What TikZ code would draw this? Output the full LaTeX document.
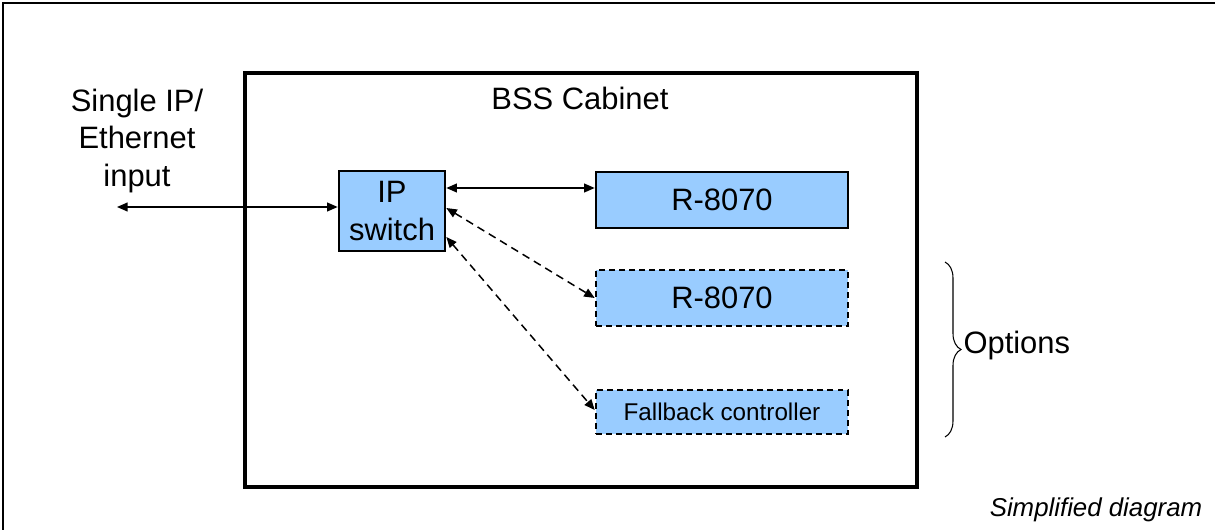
\documentclass[tikz,border=0pt]{standalone}
\usepackage{fontspec}
\setmainfont{Liberation Sans}
\usepackage{tikz}
\usetikzlibrary{arrows.meta,decorations.pathreplacing}

\definecolor{boxblue}{HTML}{99CCFF}

\begin{document}
\begin{tikzpicture}[x=0.02cm,y=-0.02cm,
        font=\fontsize{17.6}{21.3}\selectfont,
        unit/.style={draw,fill=boxblue,line width=1.5pt,inner sep=0pt,minimum width=5.04cm,minimum height=1.12cm},
        optunit/.style={unit,dash pattern=on 3.4pt off 2.3pt},
        link/.style={line width=0.85pt,{Triangle[length=6pt,width=5pt]}-{Triangle[length=6pt,width=5pt]}},
        optlink/.style={link,dash pattern=on 4.5pt off 3pt}]

    \useasboundingbox (0,0) rectangle (1215,530);
    \draw[line width=0.6pt] (3,530) -- (3,3) -- (1215,3);

    \node[draw,line width=2.3pt,minimum width=13.44cm,minimum height=8.28cm] (cab) at (581,280) {};
    \node (cabname) at (580,98) {BSS Cabinet};

    \node[align=center] (inlabel) at (137,141) {Single IP/\\Ethernet\\input};
    \coordinate (in) at (117,207);

    \node[unit,minimum width=2.12cm,minimum height=1.6cm,align=center] (ipsw) at (392,211) {IP\\switch};
    \node[unit] (r1) at (722,200) {R-8070};
    \node[optunit] (r2) at (722,298) {R-8070};
    \node[optunit,minimum height=0.88cm,font=\fontsize{13.8}{16}\selectfont] (fb) at (722,412) {Fallback controller};

    \draw[link] (in) -- (in -| ipsw.west);
    \draw[link] ([yshift=0.46cm]ipsw.east) -- ([yshift=0.46cm]ipsw.east -| r1.west);
    \draw[optlink] ([yshift=0.06cm]ipsw.east) -- (r2.west);
    \draw[optlink] ([yshift=-0.52cm]ipsw.east) -- ([yshift=0.04cm]fb.west);

    \draw[decorate,decoration={brace,amplitude=0.32cm},line width=0.6pt] (945,262) -- (945,437)
        node[midway,right=0.36cm,yshift=0.08cm,inner sep=0pt] (opts) {Options};

    \node[font=\fontsize{14.7}{17}\selectfont\itshape] (note) at (1096,510) {Simplified diagram};
\end{tikzpicture}
\end{document}
